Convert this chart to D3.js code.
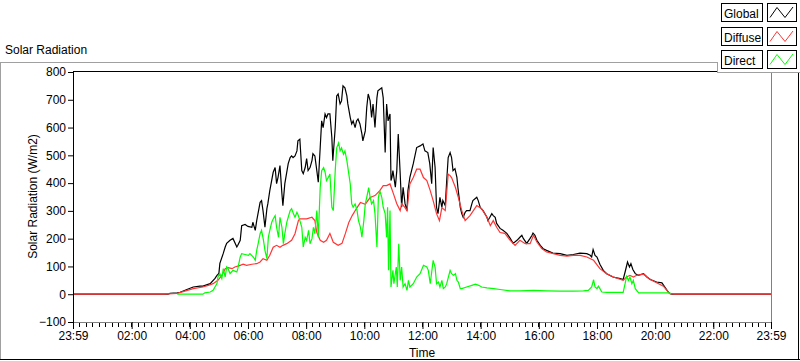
<!DOCTYPE html>
<html><head><meta charset="utf-8">
<script src="https://cdn.jsdelivr.net/npm/d3@7"></script>
<style>
html,body{margin:0;padding:0;background:#fff;}
svg{display:block;font-family:"Liberation Sans",Arial,sans-serif;}
</style></head><body>
<svg id="chart" width="800" height="361"></svg>
<script>
// ---------------- DATA ----------------
const chartTitle = "Solar Radiation";
const yTitle = "Solar Radiation (W/m2)";
const xTitle = "Time";
const seriesNames = ["Global", "Diffuse", "Direct"];
const seriesColors = ["#000000", "#ff3636", "#00ff00"];
const yTicks = [-100, 0, 100, 200, 300, 400, 500, 600, 700, 800];
const xTickMinutes = [-1, 120, 240, 360, 480, 600, 720, 840, 960, 1080, 1200, 1320, 1439];
const xTickLabels = ["23:59", "02:00", "04:00", "06:00", "08:00", "10:00", "12:00", "14:00", "16:00", "18:00", "20:00", "22:00", "23:59"];

// [minutes since midnight, W/m2]
const globalData = [[-1,0],[195,0],[199,3],[214,5],[220,7],[234,17],[247,26],[261,29],[267,29],[282,38],[292,57],[296,68],[300,75],[302,111],[309,147],[313,170],[316,183],[323,194],[329,201],[337,170],[339,176],[344,194],[347,247],[354,251],[360,244],[368,241],[370,259],[375,230],[378,265],[385,331],[388,337],[391,301],[395,241],[399,308],[401,326],[405,373],[412,439],[416,456],[419,398],[422,421],[426,463],[430,362],[432,319],[436,398],[443,470],[447,492],[450,498],[453,492],[457,498],[461,516],[463,552],[467,558],[471,445],[474,434],[478,456],[481,488],[484,445],[488,456],[492,481],[494,506],[498,498],[502,445],[505,403],[509,528],[512,624],[515,600],[519,649],[522,636],[525,649],[529,649],[533,564],[535,481],[540,600],[543,714],[546,721],[550,685],[553,696],[556,750],[560,743],[564,714],[566,685],[571,636],[574,613],[577,624],[581,600],[584,624],[587,631],[591,613],[595,577],[597,552],[602,588],[605,672],[608,721],[612,696],[615,636],[618,685],[622,600],[626,707],[628,732],[632,738],[636,743],[639,707],[643,510],[646,685],[649,624],[653,649],[655,409],[657,421],[659,445],[664,385],[667,445],[670,577],[674,434],[677,313],[680,385],[684,326],[688,301],[690,373],[694,421],[701,470],[708,528],[715,534],[721,541],[725,516],[731,510],[735,470],[739,398],[742,528],[746,456],[749,313],[752,290],[756,349],[760,313],[762,337],[767,319],[770,409],[773,492],[777,510],[780,492],[783,445],[787,452],[791,421],[793,385],[798,313],[801,290],[804,277],[808,295],[811,301],[818,301],[822,326],[824,337],[832,349],[835,337],[839,313],[845,301],[853,277],[855,265],[859,277],[863,290],[866,283],[870,277],[873,255],[880,237],[886,230],[894,219],[901,201],[907,183],[915,194],[921,205],[925,212],[928,201],[935,183],[942,201],[946,212],[948,220],[952,212],[956,194],[963,176],[969,164],[976,158],[989,148],[1004,146],[1018,140],[1031,143],[1045,148],[1059,146],[1066,140],[1069,134],[1072,161],[1076,140],[1080,134],[1086,108],[1093,86],[1100,74],[1113,62],[1128,56],[1134,53],[1138,80],[1143,116],[1147,98],[1150,110],[1154,89],[1159,74],[1165,68],[1176,74],[1183,62],[1190,53],[1203,44],[1214,41],[1220,26],[1227,8],[1231,2],[1235,0],[1439,0]];

const diffuseData = [[-1,0],[185,0],[214,3],[247,20],[267,26],[278,32],[288,38],[298,50],[306,68],[313,92],[319,96],[327,92],[333,98],[344,104],[350,108],[357,104],[368,108],[378,110],[385,116],[391,128],[399,122],[405,140],[412,169],[419,176],[426,169],[432,176],[440,182],[450,194],[457,218],[464,265],[467,271],[481,271],[492,277],[498,265],[502,222],[509,194],[516,187],[522,194],[529,219],[536,187],[546,176],[554,183],[561,219],[568,258],[575,283],[585,312],[592,330],[602,324],[612,348],[622,355],[632,373],[639,391],[646,391],[653,397],[660,362],[667,326],[674,301],[677,326],[684,312],[688,301],[694,397],[701,420],[708,450],[715,450],[722,420],[729,409],[736,373],[742,337],[749,290],[755,265],[760,312],[767,301],[773,432],[777,427],[780,420],[788,384],[794,348],[801,301],[808,265],[818,283],[832,319],[842,308],[853,277],[860,247],[866,265],[873,241],[880,222],[890,219],[901,194],[911,176],[921,194],[932,182],[942,182],[949,212],[956,188],[966,164],[976,152],[990,146],[1004,140],[1018,137],[1031,140],[1045,140],[1059,134],[1073,122],[1086,92],[1100,74],[1114,62],[1134,50],[1141,62],[1148,68],[1155,62],[1162,68],[1176,72],[1190,53],[1203,41],[1217,29],[1227,8],[1231,2],[1241,0],[1439,0]];

// direct radiation is only logged while the sun is up
const directData = [[214,0],[267,0],[271,5],[282,8],[288,14],[296,38],[298,62],[302,74],[306,56],[309,92],[313,62],[316,98],[319,92],[323,74],[329,86],[337,80],[339,92],[344,134],[347,146],[354,143],[361,140],[364,146],[371,134],[375,122],[378,158],[381,182],[385,218],[388,230],[392,194],[395,158],[399,128],[402,205],[405,230],[409,259],[412,271],[416,283],[419,241],[423,205],[426,277],[430,241],[433,182],[436,218],[440,259],[443,277],[447,301],[450,308],[454,289],[457,277],[461,295],[464,283],[467,265],[471,241],[474,170],[478,205],[481,194],[485,230],[488,182],[492,200],[495,241],[498,218],[502,301],[505,205],[509,384],[512,445],[516,456],[519,440],[522,409],[526,421],[529,433],[533,313],[536,301],[540,445],[543,527],[547,545],[550,516],[553,527],[557,504],[560,516],[564,481],[567,445],[571,397],[574,325],[577,313],[581,325],[585,301],[588,265],[592,241],[595,205],[599,265],[602,325],[605,349],[609,384],[612,349],[615,325],[619,337],[622,290],[626,170],[629,349],[632,373],[636,349],[639,313],[643,290],[646,205],[648,313],[650,86],[653,301],[655,26],[659,86],[661,38],[666,98],[668,26],[671,182],[674,50],[677,98],[680,26],[684,38],[688,14],[691,50],[694,26],[701,38],[708,62],[715,74],[722,104],[729,98],[732,86],[736,38],[739,80],[742,122],[746,98],[749,38],[753,44],[756,26],[760,50],[763,20],[767,26],[770,38],[777,86],[780,74],[784,68],[788,74],[791,50],[794,44],[798,20],[801,20],[811,26],[822,32],[829,36],[836,32],[842,26],[853,23],[867,20],[880,17],[901,12],[921,12],[949,14],[976,12],[1004,11],[1031,11],[1052,12],[1062,14],[1069,26],[1073,52],[1076,26],[1080,20],[1083,29],[1086,20],[1090,8],[1100,7],[1121,7],[1134,7],[1138,38],[1141,64],[1145,50],[1148,62],[1152,38],[1155,50],[1159,20],[1166,5],[1228,5],[1233,2]];

const allSeries = [globalData, diffuseData, directData];

// ---------------- DRAW ----------------
const svg = d3.select("#chart");
const P = {left: 73, right: 771, top: 71, bottom: 322};

const x = d3.scaleLinear().domain([-1, 1439]).range([P.left, P.right]);
const y = d3.scaleLinear().domain([-100, 800]).range([P.bottom, P.top + 1]);

svg.append("rect").attr("width", 800).attr("height", 361).attr("fill", "#fff");

// outer panel frame
svg.append("line").attr("x1", 0).attr("x2", 717).attr("y1", 62.5).attr("y2", 62.5).attr("stroke", "#a0a0a0");
svg.append("line").attr("x1", 0.5).attr("x2", 0.5).attr("y1", 62).attr("y2", 360).attr("stroke", "#a0a0a0");
svg.append("line").attr("x1", 0).attr("x2", 800).attr("y1", 359.5).attr("y2", 359.5).attr("stroke", "#000");
svg.append("line").attr("x1", 798.5).attr("x2", 798.5).attr("y1", 72).attr("y2", 360).attr("stroke", "#000");

// chart title
svg.append("text").attr("x", 5).attr("y", 54).attr("font-size", 12).attr("fill", "#000").text(chartTitle);

// clip
svg.append("clipPath").attr("id", "clip").append("rect")
  .attr("x", P.left + 1).attr("y", P.top + 1).attr("width", P.right - P.left - 1).attr("height", P.bottom - P.top - 1);

// lines
const line = d3.line().x(d => x(d[0])).y(d => y(d[1]));
const gLines = svg.append("g").attr("clip-path", "url(#clip)");
allSeries.forEach((s, i) => {
  gLines.append("path").datum(s).attr("d", line)
    .attr("fill", "none").attr("stroke", seriesColors[i]).attr("stroke-width", 1.2)
    .attr("stroke-linejoin", "miter");
});

// plot frame
svg.append("line").attr("x1", P.left + 0.5).attr("x2", P.left + 0.5).attr("y1", P.top).attr("y2", P.bottom + 1).attr("stroke", "#000");
svg.append("line").attr("x1", P.left).attr("x2", P.right + 1).attr("y1", P.top + 0.5).attr("y2", P.top + 0.5).attr("stroke", "#000");
svg.append("line").attr("x1", P.right + 0.5).attr("x2", P.right + 0.5).attr("y1", P.top).attr("y2", P.bottom + 1).attr("stroke", "#808080");
svg.append("line").attr("x1", P.left).attr("x2", P.right + 1).attr("y1", P.bottom + 0.5).attr("y2", P.bottom + 0.5).attr("stroke", "#808080");

// y axis
const yAxis = svg.append("g").attr("transform", `translate(${P.left},0)`)
  .call(d3.axisLeft(y).tickValues(yTicks).tickSize(5).tickPadding(2).tickSizeOuter(0));
yAxis.select(".domain").remove();
yAxis.selectAll("text").attr("font-size", 12).attr("fill", "#000").attr("font-family", "Liberation Sans, Arial, sans-serif");
yAxis.selectAll("line").attr("stroke", "#000");

// x axis minor ticks
const minorStep = 1440 / 108;
const minorTicks = d3.range(0, 109).map(k => -1 + k * minorStep);
svg.append("g").selectAll("line").data(minorTicks).join("line")
  .attr("x1", d => Math.round(x(d)) + 0.5).attr("x2", d => Math.round(x(d)) + 0.5)
  .attr("y1", P.bottom + 1).attr("y2", P.bottom + 5).attr("stroke", "#000");

const xAxis = svg.append("g").attr("transform", `translate(0,${P.bottom})`)
  .call(d3.axisBottom(x).tickValues(xTickMinutes).tickFormat((d, i) => xTickLabels[i]).tickSize(7).tickPadding(2).tickSizeOuter(0));
xAxis.select(".domain").remove();
xAxis.selectAll("text").attr("font-size", 12).attr("fill", "#000").attr("font-family", "Liberation Sans, Arial, sans-serif");
xAxis.selectAll("line").attr("stroke", "#000");

// axis titles
svg.append("text").attr("transform", `translate(37,${(P.top + P.bottom) / 2}) rotate(-90)`)
  .attr("text-anchor", "middle").attr("font-size", 12).attr("fill", "#000").text(yTitle);
svg.append("text").attr("x", (P.left + P.right) / 2).attr("y", 357)
  .attr("text-anchor", "middle").attr("font-size", 12).attr("fill", "#000").text(xTitle);

// legend panel
svg.append("rect").attr("x", 717).attr("y", 0).attr("width", 83).attr("height", 72).attr("fill", "#fff");
svg.append("line").attr("x1", 717.5).attr("x2", 717.5).attr("y1", 62).attr("y2", 72).attr("stroke", "#a0a0a0");
svg.append("line").attr("x1", 717).attr("x2", 800).attr("y1", 72.5).attr("y2", 72.5).attr("stroke", "#a0a0a0");

const legend = svg.append("g");
seriesNames.forEach((name, i) => {
  const top = 3 + i * 23.5;
  const ty = Math.round(top) + 0.5;
  legend.append("rect").attr("x", 721.5).attr("y", ty).attr("width", 41).attr("height", 18)
    .attr("fill", "#fff").attr("stroke", "#000");
  legend.append("text").attr("x", 724).attr("y", ty + 14).attr("font-size", 12).attr("fill", "#000").text(name);
  legend.append("rect").attr("x", 767.5).attr("y", ty).attr("width", 29).attr("height", 18)
    .attr("fill", "#fff").attr("stroke", "#000");
  const zz = [[770, ty + 14], [777, ty + 4], [785, ty + 14], [793, ty + 3.5]];
  legend.append("path").attr("d", d3.line()(zz)).attr("fill", "none").attr("stroke", seriesColors[i]).attr("stroke-width", 1);
});
</script>
</body></html>
